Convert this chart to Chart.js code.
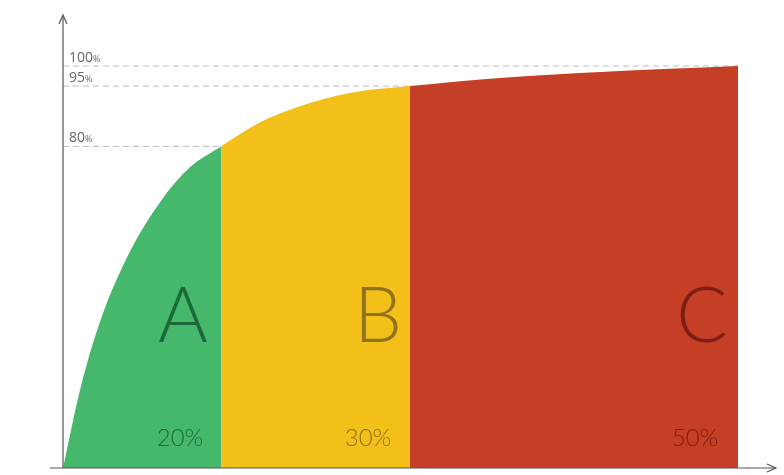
<!DOCTYPE html><html><head><script src="https://cdn.jsdelivr.net/npm/chart.js@4"></script>
<style>body{margin:0;background:#fff}#w{width:784px;height:475px}</style></head><body><div id="w"><canvas id="c"></canvas></div>
<script>
const xs=[0,2.5,5.5,9.9,14.4,18.8,23.4,29.2,35.1,42.5,51.4,64.7,79.6,100];
const ys=[0,19.3,36.5,53.8,66.2,74.8,80,86,90,93.3,95,97,98.5,100];
const classes=['A','B','C'];
const shares=['20%','30%','50%'];
const bounds=[0,23.4,51.4,100];
const yTicks=[80,95,100];
const fills=['#45b86c','#f2c019','#c43f26'];
const letterCols=['rgba(20,90,50,0.85)','rgba(120,95,30,0.8)','rgba(110,20,15,0.8)'];
const pts=xs.map((x,i)=>({x,y:ys[i]}));
const seg=(a,b)=>pts.filter(p=>p.x>=a&&p.x<=b);
const datasets=[0,1,2].map(i=>({data:seg(bounds[i],bounds[i+1]),backgroundColor:fills[i],borderWidth:0,fill:'origin',pointRadius:0,tension:0.4,cubicInterpolationMode:'monotone'}));
const deco={id:'deco',beforeDatasetsDraw(ch){const c=ch.ctx,x=ch.scales.x,y=ch.scales.y;c.save();c.strokeStyle='#bbb';c.setLineDash([6,4]);c.lineWidth=1;
 yTicks.forEach(v=>{const py=y.getPixelForValue(v);c.beginPath();c.moveTo(x.left,py);c.lineTo(v==100?x.right:x.getPixelForValue(bounds[v==80?1:2]),py);c.stroke();});c.restore();},
afterDatasetsDraw(ch){const c=ch.ctx,x=ch.scales.x,y=ch.scales.y;c.save();
 c.strokeStyle='#555';c.fillStyle='#555';c.lineWidth=1.2;c.beginPath();c.moveTo(x.left,y.bottom);c.lineTo(x.left,16);c.moveTo(50,y.bottom);c.lineTo(776,y.bottom);c.stroke();
 c.beginPath();c.moveTo(x.left-4,24);c.lineTo(x.left,15);c.lineTo(x.left+4,24);c.stroke();
 c.beginPath();c.moveTo(767,y.bottom-4);c.lineTo(776,y.bottom);c.lineTo(767,y.bottom+4);c.stroke();
 c.textBaseline='alphabetic';c.fillStyle='#666';
 yTicks.forEach(v=>{const py=y.getPixelForValue(v)-4;c.font='14px "Open Sans"';c.textAlign='left';c.fillText(v,69,py);const w=c.measureText(String(v)).width;c.font='9px "Open Sans"';c.fillText('%',69+w,py);});
 [0,1,2].map(i=>{c.fillStyle=letterCols[i];c.textAlign='center';c.font='300 76px Lato';const cx=i==2?702:(i==0?183:378);c.fillText(classes[i],cx,342);c.font='300 24px Lato';c.fillText(shares[i],i==2?695:(i==0?180:368),446);});
 c.restore();}};
new Chart(document.getElementById('c'),{type:'line',data:{datasets},plugins:[deco],options:{responsive:true,maintainAspectRatio:false,animation:false,
layout:{padding:{left:63,right:46,top:66,bottom:7}},plugins:{legend:{display:false},tooltip:{enabled:false}},
scales:{x:{type:'linear',min:0,max:100,display:false},y:{min:0,max:100,display:false}}}});
</script></body></html>
